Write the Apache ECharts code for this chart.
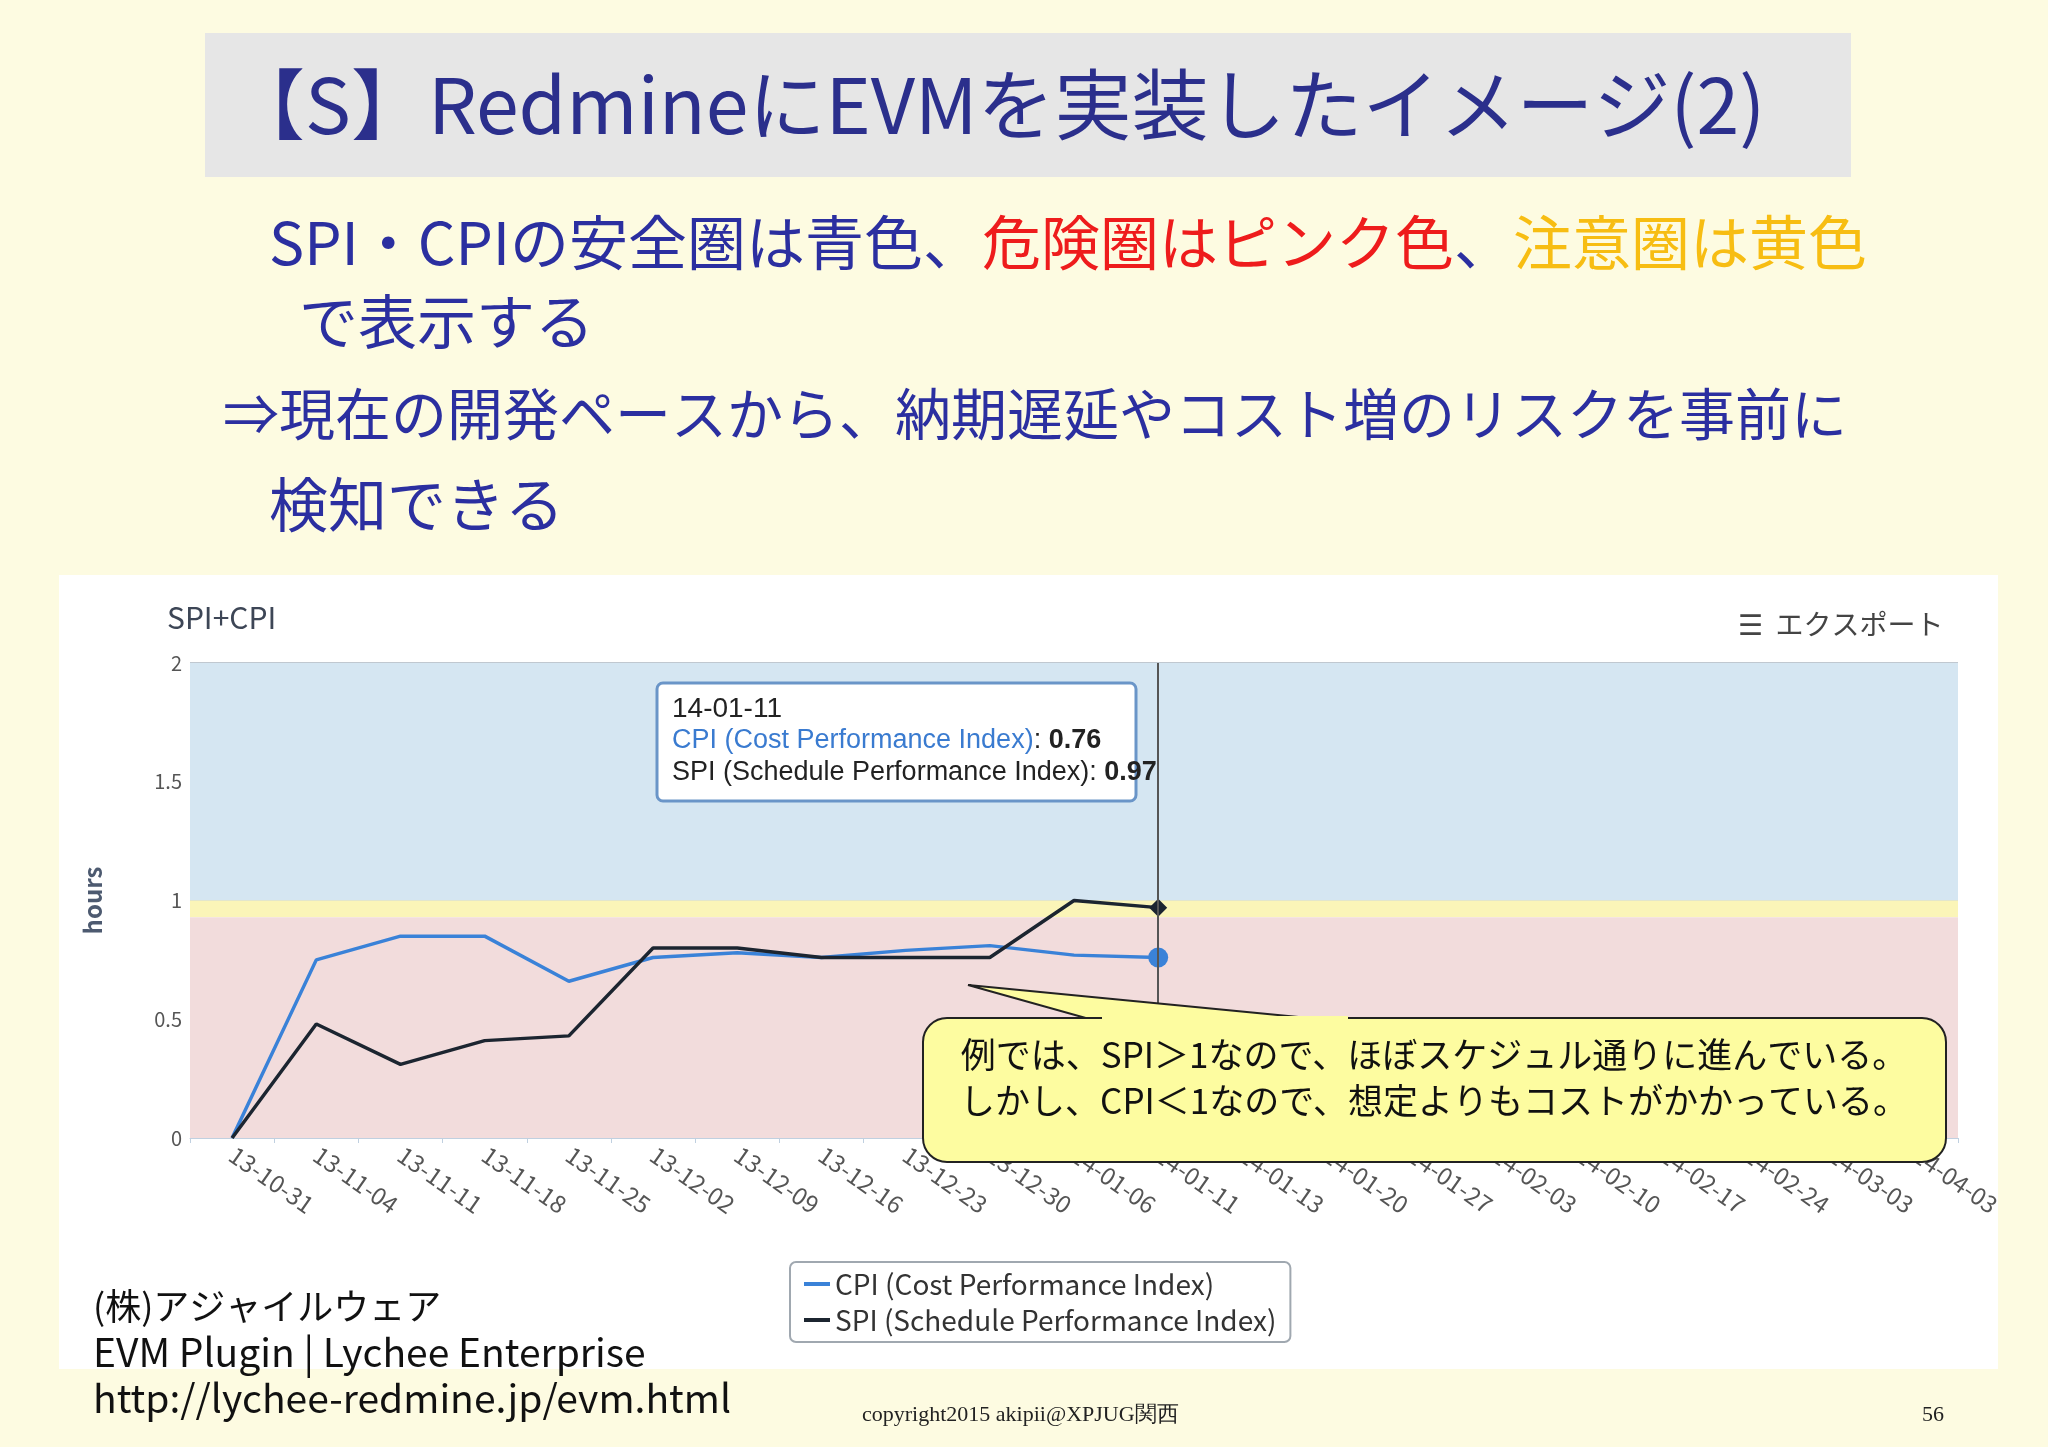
<!DOCTYPE html>
<html><head><meta charset="utf-8">
<script src="https://cdn.jsdelivr.net/npm/echarts@6/dist/echarts.min.js"></script>
<style>html,body{margin:0;padding:0;background:#fdfbe1}#c{width:2048px;height:1447px}</style>
</head><body><div id="c"></div>
<script>
const dates = ['13-10-31','13-11-04','13-11-11','13-11-18','13-11-25','13-12-02','13-12-09','13-12-16','13-12-23','13-12-30',
  '14-01-06','14-01-11','14-01-13','14-01-20','14-01-27','14-02-03','14-02-10','14-02-17','14-02-24','14-03-03','14-04-03']
const cpi = [0, 0.75, 0.85, 0.85, 0.66, 0.76, 0.78, 0.76, 0.79, 0.81, 0.77, 0.76]
const spi = [0, 0.48, 0.31, 0.41, 0.43, 0.80, 0.80, 0.76, 0.76, 0.76, 1.0, 0.97]
const yTicks = [0, 0.5, 1, 1.5, 2]

const font = '"Noto Sans CJK JP", "Noto Sans", sans-serif'
const lastPt = (arr, sym, color, size) => arr.map((v, i) => i === arr.length - 1
  ? { value: v, symbol: sym, symbolSize: size, itemStyle: { color } } : v)

const chart = echarts.init(document.getElementById('c'))
chart.setOption({
  backgroundColor: '#fdfbe1',
  animation: false,
  textStyle: { fontFamily: font },
  grid: { left: 190, right: 90, top: 663, bottom: 309 },
  xAxis: {
    type: 'category', data: dates, boundaryGap: true,
    axisLine: { lineStyle: { color: '#c0d0e0' } },
    axisTick: { show: true, lineStyle: { color: '#c0d0e0' } },
    axisLabel: { rotate: -35, color: '#555', fontSize: 24, margin: 14 }
  },
  yAxis: {
    type: 'value', min: 0, max: 2, interval: 0.5,
    name: 'hours', nameLocation: 'middle', nameGap: 85, nameRotate: 90,
    nameTextStyle: { color: '#4d5a70', fontSize: 24, fontWeight: 'bold' },
    axisLabel: { color: '#555', fontSize: 20, formatter: v => yTicks.includes(v) ? String(v) : '' },
    splitLine: { lineStyle: { color: '#c0c8d0', width: 2 } }
  },
  series: [
    { name: 'CPI (Cost Performance Index)', type: 'line', data: lastPt(cpi, 'circle', '#3a82d8', 20),
      symbol: 'none', lineStyle: { color: '#3a82d8', width: 3.5 }, itemStyle: { color: '#3a82d8' },
      markArea: { silent: true, data: [
        [{ yAxis: 1, itemStyle: { color: '#d5e6f2' } }, { yAxis: 2 }],
        [{ yAxis: 0.93, itemStyle: { color: '#fbf5b8' } }, { yAxis: 1 }],
        [{ yAxis: 0, itemStyle: { color: '#f2dcdc' } }, { yAxis: 0.93 }]
      ] },
      markLine: { silent: true, symbol: 'none', label: { show: false },
        lineStyle: { color: '#555', width: 2, type: 'solid' }, data: [{ xAxis: '14-01-11' }] }
    },
    { name: 'SPI (Schedule Performance Index)', type: 'line', data: lastPt(spi, 'diamond', '#1c2530', 18),
      symbol: 'none', lineStyle: { color: '#1c2530', width: 3.5 }, itemStyle: { color: '#1c2530' } }
  ],
  legend: {
    left: 790, top: 1262, orient: 'vertical', itemGap: 8, itemWidth: 26, itemHeight: 4,
    icon: 'rect', padding: [8, 14], borderColor: '#a0a8b0', borderWidth: 2, borderRadius: 6,
    backgroundColor: '#fff', textStyle: { fontSize: 28, color: '#333' }
  },
  graphic: [
    { type: 'rect', z: -10, shape: { x: 59, y: 575, width: 1939, height: 794 }, style: { fill: '#fff' } },
    { type: 'rect', z: -10, shape: { x: 205, y: 33, width: 1646, height: 144 }, style: { fill: '#e6e6e6' } },
    { type: 'text', x: 228, y: 105, style: { text: '【S】RedmineにEVMを実装したイメージ(2)', font: `77px ${font}`, fill: '#2b2f8c', textVerticalAlign: 'middle' } },
    { type: 'text', x: 269, y: 243, style: { text: '{b|SPI・CPIの安全圏は青色、}{r|危険圏はピンク色}{b|、}{o|注意圏は黄色}',
      textVerticalAlign: 'middle', rich: {
        b: { fontSize: 59, fontFamily: font, fill: '#2b2fa0' },
        r: { fontSize: 59, fontFamily: font, fill: '#ee1c1c' },
        o: { fontSize: 59, fontFamily: font, fill: '#f7bd12' } } } },
    { type: 'text', x: 299, y: 322, style: { text: 'で表示する', font: `59px ${font}`, fill: '#2b2fa0', textVerticalAlign: 'middle' } },
    { type: 'text', x: 223, y: 414, style: { text: '⇒現在の開発ペースから、納期遅延やコスト増のリスクを事前に', font: `56px ${font}`, fill: '#2b2fa0', textVerticalAlign: 'middle' } },
    { type: 'text', x: 269, y: 505, style: { text: '検知できる', font: `59px ${font}`, fill: '#2b2fa0', textVerticalAlign: 'middle' } },
    { type: 'text', x: 167, y: 618, style: { text: 'SPI+CPI', font: `30px ${font}`, fill: '#3d4656', textVerticalAlign: 'middle' } },
    { type: 'text', x: 1738, y: 624, style: { text: '☰  エクスポート', font: `28px ${font}`, fill: '#444', textVerticalAlign: 'middle' } },
    // tooltip box
    { type: 'rect', z: 50, shape: { x: 657, y: 683, width: 479, height: 118, r: 6 }, style: { fill: '#fff', stroke: '#6a95c8', lineWidth: 3 } },
    { type: 'text', z: 51, x: 672, y: 693, style: { text: '{d|14-01-11}\n{c|CPI (Cost Performance Index)}{k|: }{v|0.76}\n{k|SPI (Schedule Performance Index): }{v|0.97}',
      rich: { d: { fontSize: 28, fill: '#222', lineHeight: 32 }, c: { fontSize: 27, fill: '#3a7bd0', lineHeight: 32 },
        k: { fontSize: 27, fill: '#222', lineHeight: 32 }, v: { fontSize: 27, fill: '#222', fontWeight: 'bold', lineHeight: 32 } } } },
    // callout
    { type: 'polygon', z: 60, shape: { points: [[968, 985], [1100, 1022], [1350, 1022]] }, style: { fill: '#fdfca0', stroke: '#222', lineWidth: 2 } },
    { type: 'rect', z: 61, shape: { x: 923, y: 1018, width: 1023, height: 144, r: 24 }, style: { fill: '#fdfca0', stroke: '#222', lineWidth: 2 } },
    { type: 'rect', z: 62, shape: { x: 1102, y: 1016, width: 246, height: 6 }, style: { fill: '#fdfca0' } },
    { type: 'text', z: 63, x: 1434, y: 1078, style: { text: '例では、SPI＞1なので、ほぼスケジュル通りに進んでいる。\nしかし、CPI＜1なので、想定よりもコストがかかっている。',
      font: `35px ${font}`, fill: '#111', align: 'center', textVerticalAlign: 'middle', lineHeight: 46 } },
    // footer
    { type: 'text', x: 93, y: 1306, style: { text: '(株)アジャイルウェア', font: `36px ${font}`, fill: '#111', textVerticalAlign: 'middle' } },
    { type: 'text', x: 93, y: 1352, style: { text: 'EVM Plugin | Lychee Enterprise', font: `39px ${font}`, fill: '#111', textVerticalAlign: 'middle' } },
    { type: 'text', x: 93, y: 1398, style: { text: 'http://lychee-redmine.jp/evm.html', font: `39px ${font}`, fill: '#111', textVerticalAlign: 'middle' } },
    { type: 'text', x: 862, y: 1415, style: { text: 'copyright2015 akipii@XPJUG関西', font: '22px "Liberation Serif", serif', fill: '#222', textVerticalAlign: 'middle' } },
    { type: 'text', x: 1922, y: 1415, style: { text: '56', font: '22px "Liberation Serif", serif', fill: '#222', textVerticalAlign: 'middle' } }
  ]
})
</script></body></html>
